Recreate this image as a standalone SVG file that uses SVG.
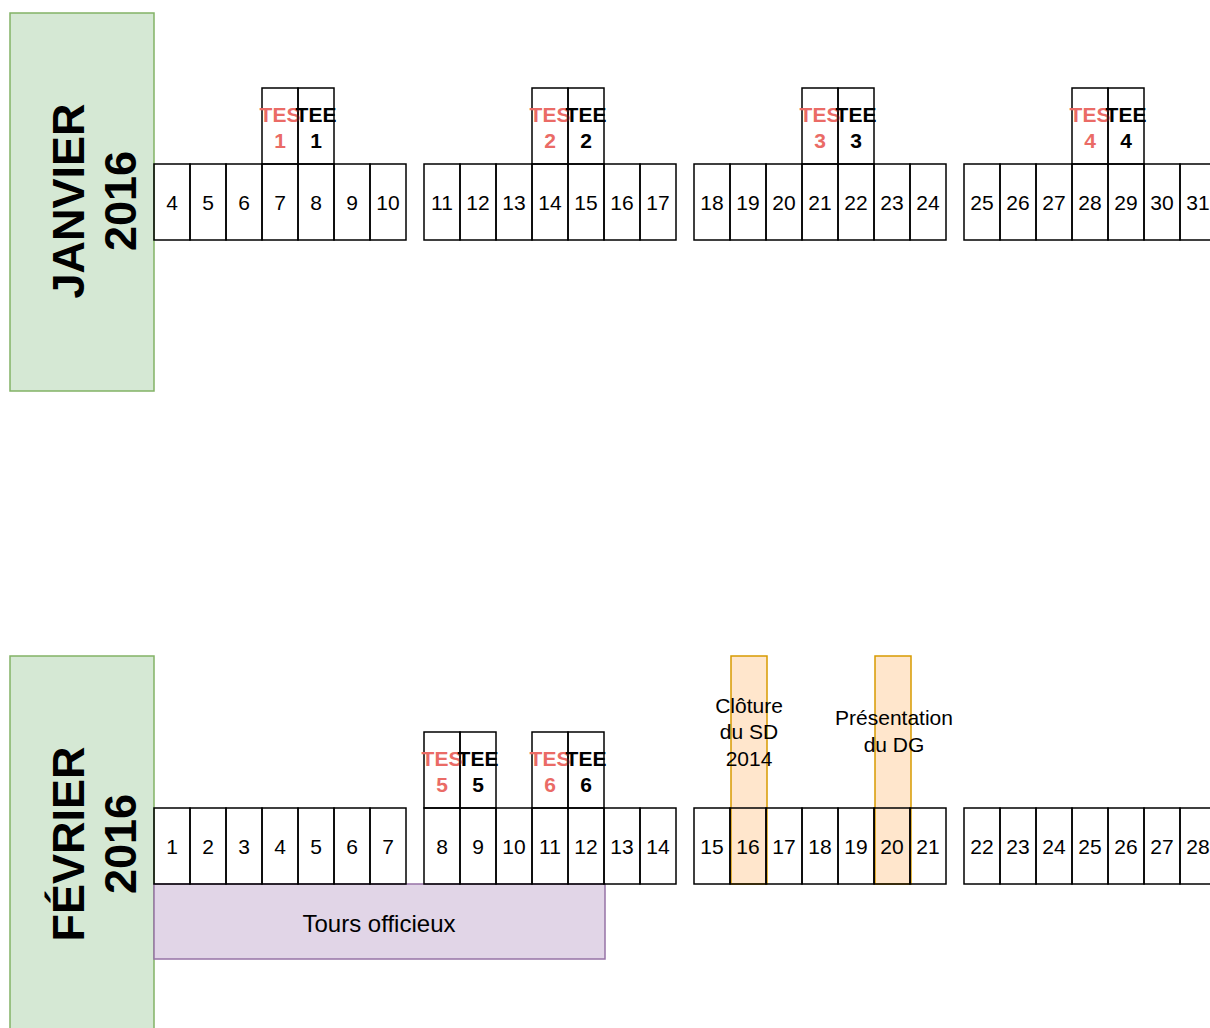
<svg xmlns="http://www.w3.org/2000/svg" width="1210" height="1028" viewBox="0 0 1210 1028">
<style>
text{font-family:"Liberation Sans",Arial,Helvetica,sans-serif;fill:#000}
.month{fill:#d5e8d4;stroke:#82b366;stroke-width:1.5}
.mt{font-size:45px;font-weight:bold;text-anchor:middle}
.cell{fill:none;stroke:#000;stroke-width:1.5}
.day{font-size:21px;text-anchor:middle}
.tes{font-size:21px;font-weight:bold;text-anchor:middle;fill:#EA6B66}
.tee{font-size:21px;font-weight:bold;text-anchor:middle}
.evt{fill:#ffe6cc;stroke:#d79b00;stroke-width:1.5}
.lbl{font-size:21px;text-anchor:middle}
.tours{fill:#e1d5e7;stroke:#9673a6;stroke-width:1.5}
</style>
<rect width="1210" height="1028" fill="#fff"/>

<g id="month-janvier">
<rect class="month" x="10" y="13" width="144" height="378"/>
<text class="mt" transform="translate(84,201) rotate(-90)"><tspan x="0" y="0">JANVIER</tspan><tspan x="0" y="52">2016</tspan></text>
</g>
<g id="month-fevrier">
<rect class="month" x="10" y="656" width="144" height="378"/>
<text class="mt" transform="translate(84,844) rotate(-90)"><tspan x="0" y="0">FÉVRIER</tspan><tspan x="0" y="52">2016</tspan></text>
</g>

<g id="tours-officieux">
<rect class="tours" x="154" y="884" width="451" height="75"/>
<text x="379" y="932" style="font-size:24px;text-anchor:middle">Tours officieux</text>
</g>

<g id="evt-cloture">
<rect class="evt" x="731" y="656" width="36" height="228"/>
</g>
<g id="evt-presentation">
<rect class="evt" x="875" y="656" width="36" height="228"/>
</g>

<g id="jan-4"><rect class="cell" x="154" y="164" width="36" height="76"/><text class="day" x="172" y="210">4</text></g>
<g id="jan-5"><rect class="cell" x="190" y="164" width="36" height="76"/><text class="day" x="208" y="210">5</text></g>
<g id="jan-6"><rect class="cell" x="226" y="164" width="36" height="76"/><text class="day" x="244" y="210">6</text></g>
<g id="jan-7"><rect class="cell" x="262" y="164" width="36" height="76"/><text class="day" x="280" y="210">7</text></g>
<g id="jan-8"><rect class="cell" x="298" y="164" width="36" height="76"/><text class="day" x="316" y="210">8</text></g>
<g id="jan-9"><rect class="cell" x="334" y="164" width="36" height="76"/><text class="day" x="352" y="210">9</text></g>
<g id="jan-10"><rect class="cell" x="370" y="164" width="36" height="76"/><text class="day" x="388" y="210">10</text></g>

<g id="jan-11"><rect class="cell" x="424" y="164" width="36" height="76"/><text class="day" x="442" y="210">11</text></g>
<g id="jan-12"><rect class="cell" x="460" y="164" width="36" height="76"/><text class="day" x="478" y="210">12</text></g>
<g id="jan-13"><rect class="cell" x="496" y="164" width="36" height="76"/><text class="day" x="514" y="210">13</text></g>
<g id="jan-14"><rect class="cell" x="532" y="164" width="36" height="76"/><text class="day" x="550" y="210">14</text></g>
<g id="jan-15"><rect class="cell" x="568" y="164" width="36" height="76"/><text class="day" x="586" y="210">15</text></g>
<g id="jan-16"><rect class="cell" x="604" y="164" width="36" height="76"/><text class="day" x="622" y="210">16</text></g>
<g id="jan-17"><rect class="cell" x="640" y="164" width="36" height="76"/><text class="day" x="658" y="210">17</text></g>

<g id="jan-18"><rect class="cell" x="694" y="164" width="36" height="76"/><text class="day" x="712" y="210">18</text></g>
<g id="jan-19"><rect class="cell" x="730" y="164" width="36" height="76"/><text class="day" x="748" y="210">19</text></g>
<g id="jan-20"><rect class="cell" x="766" y="164" width="36" height="76"/><text class="day" x="784" y="210">20</text></g>
<g id="jan-21"><rect class="cell" x="802" y="164" width="36" height="76"/><text class="day" x="820" y="210">21</text></g>
<g id="jan-22"><rect class="cell" x="838" y="164" width="36" height="76"/><text class="day" x="856" y="210">22</text></g>
<g id="jan-23"><rect class="cell" x="874" y="164" width="36" height="76"/><text class="day" x="892" y="210">23</text></g>
<g id="jan-24"><rect class="cell" x="910" y="164" width="36" height="76"/><text class="day" x="928" y="210">24</text></g>

<g id="jan-25"><rect class="cell" x="964" y="164" width="36" height="76"/><text class="day" x="982" y="210">25</text></g>
<g id="jan-26"><rect class="cell" x="1000" y="164" width="36" height="76"/><text class="day" x="1018" y="210">26</text></g>
<g id="jan-27"><rect class="cell" x="1036" y="164" width="36" height="76"/><text class="day" x="1054" y="210">27</text></g>
<g id="jan-28"><rect class="cell" x="1072" y="164" width="36" height="76"/><text class="day" x="1090" y="210">28</text></g>
<g id="jan-29"><rect class="cell" x="1108" y="164" width="36" height="76"/><text class="day" x="1126" y="210">29</text></g>
<g id="jan-30"><rect class="cell" x="1144" y="164" width="36" height="76"/><text class="day" x="1162" y="210">30</text></g>
<g id="jan-31"><rect class="cell" x="1180" y="164" width="36" height="76"/><text class="day" x="1198" y="210">31</text></g>

<g id="feb-1"><rect class="cell" x="154" y="808" width="36" height="76"/><text class="day" x="172" y="854">1</text></g>
<g id="feb-2"><rect class="cell" x="190" y="808" width="36" height="76"/><text class="day" x="208" y="854">2</text></g>
<g id="feb-3"><rect class="cell" x="226" y="808" width="36" height="76"/><text class="day" x="244" y="854">3</text></g>
<g id="feb-4"><rect class="cell" x="262" y="808" width="36" height="76"/><text class="day" x="280" y="854">4</text></g>
<g id="feb-5"><rect class="cell" x="298" y="808" width="36" height="76"/><text class="day" x="316" y="854">5</text></g>
<g id="feb-6"><rect class="cell" x="334" y="808" width="36" height="76"/><text class="day" x="352" y="854">6</text></g>
<g id="feb-7"><rect class="cell" x="370" y="808" width="36" height="76"/><text class="day" x="388" y="854">7</text></g>

<g id="feb-8"><rect class="cell" x="424" y="808" width="36" height="76"/><text class="day" x="442" y="854">8</text></g>
<g id="feb-9"><rect class="cell" x="460" y="808" width="36" height="76"/><text class="day" x="478" y="854">9</text></g>
<g id="feb-10"><rect class="cell" x="496" y="808" width="36" height="76"/><text class="day" x="514" y="854">10</text></g>
<g id="feb-11"><rect class="cell" x="532" y="808" width="36" height="76"/><text class="day" x="550" y="854">11</text></g>
<g id="feb-12"><rect class="cell" x="568" y="808" width="36" height="76"/><text class="day" x="586" y="854">12</text></g>
<g id="feb-13"><rect class="cell" x="604" y="808" width="36" height="76"/><text class="day" x="622" y="854">13</text></g>
<g id="feb-14"><rect class="cell" x="640" y="808" width="36" height="76"/><text class="day" x="658" y="854">14</text></g>

<g id="feb-15"><rect class="cell" x="694" y="808" width="36" height="76"/><text class="day" x="712" y="854">15</text></g>
<g id="feb-16"><rect class="cell" x="730" y="808" width="36" height="76"/><text class="day" x="748" y="854">16</text></g>
<g id="feb-17"><rect class="cell" x="766" y="808" width="36" height="76"/><text class="day" x="784" y="854">17</text></g>
<g id="feb-18"><rect class="cell" x="802" y="808" width="36" height="76"/><text class="day" x="820" y="854">18</text></g>
<g id="feb-19"><rect class="cell" x="838" y="808" width="36" height="76"/><text class="day" x="856" y="854">19</text></g>
<g id="feb-20"><rect class="cell" x="874" y="808" width="36" height="76"/><text class="day" x="892" y="854">20</text></g>
<g id="feb-21"><rect class="cell" x="910" y="808" width="36" height="76"/><text class="day" x="928" y="854">21</text></g>

<g id="feb-22"><rect class="cell" x="964" y="808" width="36" height="76"/><text class="day" x="982" y="854">22</text></g>
<g id="feb-23"><rect class="cell" x="1000" y="808" width="36" height="76"/><text class="day" x="1018" y="854">23</text></g>
<g id="feb-24"><rect class="cell" x="1036" y="808" width="36" height="76"/><text class="day" x="1054" y="854">24</text></g>
<g id="feb-25"><rect class="cell" x="1072" y="808" width="36" height="76"/><text class="day" x="1090" y="854">25</text></g>
<g id="feb-26"><rect class="cell" x="1108" y="808" width="36" height="76"/><text class="day" x="1126" y="854">26</text></g>
<g id="feb-27"><rect class="cell" x="1144" y="808" width="36" height="76"/><text class="day" x="1162" y="854">27</text></g>
<g id="feb-28"><rect class="cell" x="1180" y="808" width="36" height="76"/><text class="day" x="1198" y="854">28</text></g>

<g id="tes-1"><rect class="cell" x="262" y="88" width="36" height="76"/><text class="tes" x="280" y="122">TES</text><text class="tes" x="280" y="148">1</text></g>
<g id="tee-1"><rect class="cell" x="298" y="88" width="36" height="76"/><text class="tee" x="316" y="122">TEE</text><text class="tee" x="316" y="148">1</text></g>
<g id="tes-2"><rect class="cell" x="532" y="88" width="36" height="76"/><text class="tes" x="550" y="122">TES</text><text class="tes" x="550" y="148">2</text></g>
<g id="tee-2"><rect class="cell" x="568" y="88" width="36" height="76"/><text class="tee" x="586" y="122">TEE</text><text class="tee" x="586" y="148">2</text></g>
<g id="tes-3"><rect class="cell" x="802" y="88" width="36" height="76"/><text class="tes" x="820" y="122">TES</text><text class="tes" x="820" y="148">3</text></g>
<g id="tee-3"><rect class="cell" x="838" y="88" width="36" height="76"/><text class="tee" x="856" y="122">TEE</text><text class="tee" x="856" y="148">3</text></g>
<g id="tes-4"><rect class="cell" x="1072" y="88" width="36" height="76"/><text class="tes" x="1090" y="122">TES</text><text class="tes" x="1090" y="148">4</text></g>
<g id="tee-4"><rect class="cell" x="1108" y="88" width="36" height="76"/><text class="tee" x="1126" y="122">TEE</text><text class="tee" x="1126" y="148">4</text></g>
<g id="tes-5"><rect class="cell" x="424" y="732" width="36" height="76"/><text class="tes" x="442" y="766">TES</text><text class="tes" x="442" y="792">5</text></g>
<g id="tee-5"><rect class="cell" x="460" y="732" width="36" height="76"/><text class="tee" x="478" y="766">TEE</text><text class="tee" x="478" y="792">5</text></g>
<g id="tes-6"><rect class="cell" x="532" y="732" width="36" height="76"/><text class="tes" x="550" y="766">TES</text><text class="tes" x="550" y="792">6</text></g>
<g id="tee-6"><rect class="cell" x="568" y="732" width="36" height="76"/><text class="tee" x="586" y="766">TEE</text><text class="tee" x="586" y="792">6</text></g>

<g id="label-cloture">
<text class="lbl" x="749"><tspan x="749" y="713">Clôture</tspan><tspan x="749" y="739">du SD</tspan><tspan x="749" y="766">2014</tspan></text>
</g>
<g id="label-presentation">
<text class="lbl" x="894"><tspan x="894" y="725">Présentation</tspan><tspan x="894" y="752">du DG</tspan></text>
</g>
</svg>
